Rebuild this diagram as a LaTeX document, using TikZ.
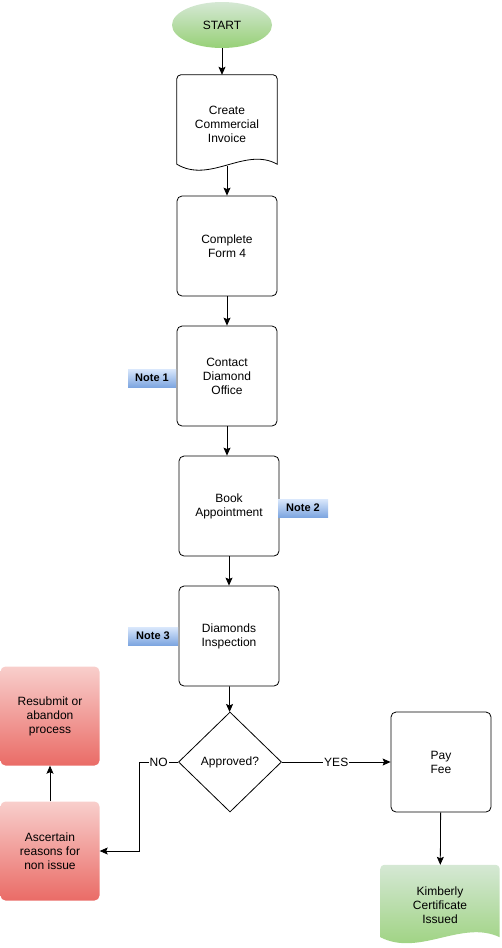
\documentclass[tikz,border=0pt]{standalone}
\usepackage{fontspec}
\setmainfont{Liberation Sans}
\usetikzlibrary{shapes.geometric, arrows.meta, positioning, backgrounds}

\definecolor{greenTop}{HTML}{D5E8D4}
\definecolor{greenBot}{HTML}{97D077}
\definecolor{redTop}{HTML}{F8CECC}
\definecolor{redBot}{HTML}{EA6B66}
\definecolor{blueTop}{HTML}{DAE8FC}
\definecolor{blueBot}{HTML}{7EA6E0}

\tikzset{
  >={Stealth[length=8pt, width=7pt, inset=1.5pt]},
  every node/.style={font=\fontsize{12pt}{14pt}\selectfont, align=center},
  stepbox/.style={draw, rounded corners=5pt, minimum width=100pt, minimum height=100pt, line width=0.8pt},
  redbox/.style={rounded corners=5pt, minimum width=99pt, minimum height=99pt, top color=redTop, bottom color=redBot},
  notebox/.style={minimum width=50pt, minimum height=18pt, inner sep=0pt, top color=blueTop, bottom color=blueBot, font=\fontsize{11pt}{13pt}\selectfont\bfseries},
  lbl/.style={fill=white, inner sep=1pt},
  flow/.style={line width=0.8pt}
}

\begin{document}
\begin{tikzpicture}[x=1pt, y=-1pt]
    \useasboundingbox (0,0) rectangle (502,948);

    \node[ellipse, minimum width=100pt, minimum height=46pt, top color=greenTop, bottom color=greenBot] (start) at (222,25) {START};

    % document shapes
    \node[minimum width=100pt, minimum height=98pt] (invoice) at (227,124) {Create\\Commercial\\Invoice};
    \draw[flow] ([yshift=9pt]invoice.south west) [rounded corners=4pt] -- (invoice.north west) -- (invoice.north east) [sharp corners] -- ([yshift=9pt]invoice.south east)
        .. controls ([xshift=-32pt, yshift=27pt]invoice.south east) and ([xshift=33pt, yshift=-11pt]invoice.south west) .. cycle;

    \node[stepbox] (form) at (227,246) {Complete\\Form 4};
    \node[stepbox] (contact) at (227,376) {Contact\\Diamond\\Office};
    \node[stepbox] (book) at (229,506) {Book\\Appointment};
    \node[stepbox] (inspect) at (229,636) {Diamonds\\Inspection};
    \node[draw, diamond, line width=0.8pt, minimum width=103pt, minimum height=100pt, inner sep=0pt] (approved) at (230,762) {Approved?};
    \node[stepbox] (payfee) at (441,762) {Pay\\Fee};

    \node[minimum width=119pt, minimum height=80pt] (kimberly) at (440,905) {Kimberly\\Certificate\\Issued};
    \begin{scope}[on background layer]
        \shade[top color=greenTop, bottom color=greenBot] ([yshift=8pt]kimberly.south west) [rounded corners=4pt] -- (kimberly.north west) -- (kimberly.north east) [sharp corners] -- ([yshift=8pt]kimberly.south east)
            .. controls ([xshift=-38pt, yshift=26pt]kimberly.south east) and ([xshift=39pt, yshift=-12pt]kimberly.south west) .. cycle;
    \end{scope}

    \node[redbox] (resubmit) at (50,716) {Resubmit or\\abandon\\process};
    \node[redbox] (ascertain) at (50,851) {Ascertain\\reasons for\\non issue};

    % notes
    \node[notebox, minimum width=48pt] (note1) at (152,378) {Note 1};
    \node[notebox] (note2) at (303,508) {Note 2};
    \node[notebox] (note3) at (153,636) {Note 3};

    \draw[flow, ->] (start) -- (start |- invoice.north);
    \draw[flow, ->] ([yshift=7pt]invoice.south) -- (form);
    \draw[flow, ->] (form) -- (contact);
    \draw[flow, ->] (contact) -- (contact |- book.north);
    \draw[flow, ->] (book) -- (inspect);
    \draw[flow, ->] (inspect) -- (approved);
    \draw[flow, ->] (approved) -- node[lbl] {YES} (payfee);
    \draw[flow, ->] (approved.west) -- node[lbl] {NO} ++(-39,0) |- (ascertain.east);
    \draw[flow, ->] (ascertain) -- (resubmit);
    \draw[flow, ->] (payfee) -- (kimberly);
\end{tikzpicture}
\end{document}
